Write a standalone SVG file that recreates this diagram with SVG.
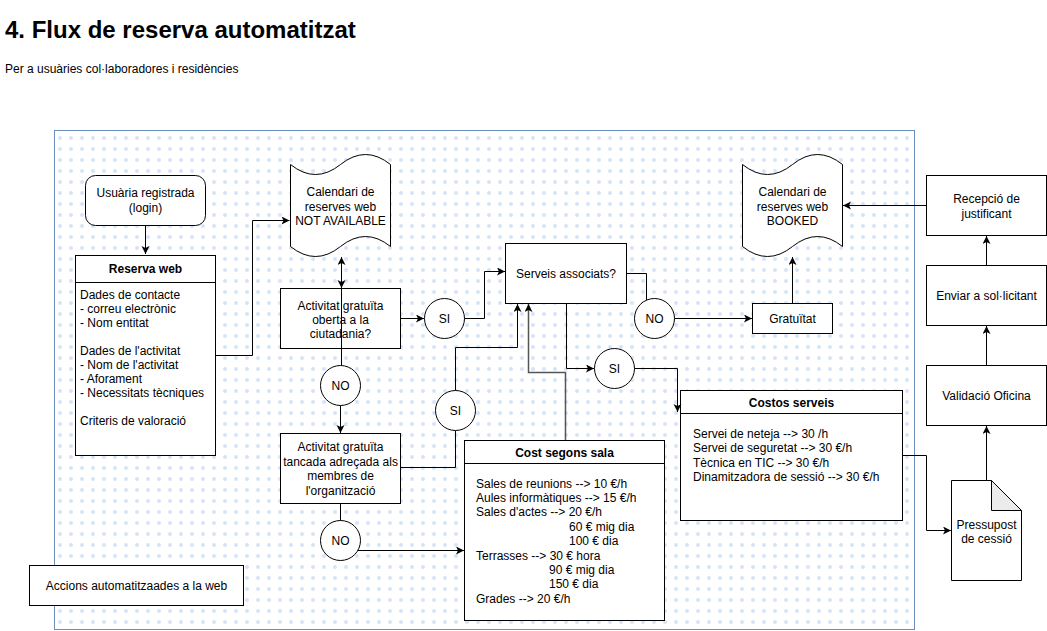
<svg xmlns="http://www.w3.org/2000/svg" width="1047" height="631" viewBox="0 0 1047 631">
<defs>
<pattern id="dots" width="11" height="11" patternUnits="userSpaceOnUse"><circle cx="5" cy="6" r="2" fill="#d6e4f8"/></pattern>
<marker id="arr" markerUnits="userSpaceOnUse" markerWidth="10" markerHeight="10" refX="8" refY="4" orient="auto"><path d="M0,0 L8,4 L0,8 L2,4 Z" fill="#000"/></marker>
<marker id="arrg" markerUnits="userSpaceOnUse" markerWidth="10" markerHeight="10" refX="8" refY="4" orient="auto"><path d="M0,0 L8,4 L0,8 L2,4 Z" fill="#000"/></marker>
</defs>
<style>
text{font-family:"Liberation Sans",Arial,sans-serif;font-size:12px;fill:#000}
.c{text-anchor:middle}
.b{font-weight:bold}
.n{fill:#fff;stroke:#000;stroke-width:1}
.e{fill:none;stroke:#000;stroke-width:1}
.g{fill:none;stroke:#555;stroke-width:1.5}
</style>
<rect width="1047" height="631" fill="#fff"/>
<text x="5" y="38" style="font-size:24px;font-weight:bold">4. Flux de reserva automatitzat</text>
<text x="5" y="73">Per a usuàries col·laboradores i residències</text>
<g id="container"><rect x="54.5" y="130.5" width="860" height="499" fill="#fff"/><rect x="54.5" y="130.5" width="860" height="499" fill="url(#dots)" stroke="#6c8ebf"/></g>
<g id="usuaria"><rect class="n" x="85.5" y="175.5" width="120" height="50" rx="10"/><text class="c" x="145.5" y="197">Usuària registrada</text><text class="c" x="145.5" y="212">(login)</text></g>
<g id="reserva"><rect class="n" x="75.5" y="255.5" width="140" height="200"/><line x1="75.5" y1="282.5" x2="215.5" y2="282.5" stroke="#000"/><text class="c b" x="145.5" y="273">Reserva web</text>
<text x="80" y="298.5">Dades de contacte</text><text x="80" y="312.6">- correu electrònic</text><text x="80" y="326.7">- Nom entitat</text><text x="80" y="354.9">Dades de l'activitat</text><text x="80" y="369">- Nom de l'activitat</text><text x="80" y="383.1">- Aforament</text><text x="80" y="397.2">- Necessitats tècniques</text><text x="80" y="425.4">Criteris de valoració</text></g>
<g id="cal1"><path class="n" d="M290.5,164.5 Q315.5,184.5 340.5,164.5 Q365.5,144.5 390.5,164.5 L390.5,246.5 Q365.5,226.5 340.5,246.5 Q315.5,266.5 290.5,246.5 Z"/><text class="c" x="340.5" y="196">Calendari de</text><text class="c" x="340.5" y="210.5">reserves web</text><text class="c" x="340.5" y="225">NOT AVAILABLE</text></g>
<g id="oberta"><rect class="n" x="280.5" y="288.5" width="120" height="60"/><text class="c" x="340.5" y="309.5">Activitat gratuïta</text><text class="c" x="340.5" y="323.5">oberta a la</text><text class="c" x="340.5" y="337.5">ciutadania?</text></g>
<g id="tancada"><rect class="n" x="280.5" y="433.5" width="120" height="70"/><text class="c" x="340.5" y="451">Activitat gratuïta</text><text class="c" x="340.5" y="465.5">tancada adreçada als</text><text class="c" x="340.5" y="480">membres de</text><text class="c" x="340.5" y="494.5">l'organització</text></g>
<g id="si1"><circle class="n" cx="444.5" cy="318.5" r="20"/><text class="c" x="444.5" y="323">SI</text></g>
<g id="no1"><circle class="n" cx="340.5" cy="385.5" r="20"/><text class="c" x="340.5" y="390">NO</text></g>
<g id="no2"><circle class="n" cx="340.5" cy="540.5" r="20"/><text class="c" x="340.5" y="545">NO</text></g>
<g id="si2"><circle class="n" cx="455.5" cy="410.5" r="20"/><text class="c" x="455.5" y="415">SI</text></g>
<g id="serveis"><rect class="n" x="505.5" y="243.5" width="121" height="60"/><text class="c" x="566" y="277.5">Serveis associats?</text></g>
<g id="no3"><circle class="n" cx="654.5" cy="318.5" r="20"/><text class="c" x="654.5" y="323">NO</text></g>
<g id="si3"><circle class="n" cx="614.5" cy="368.5" r="20"/><text class="c" x="614.5" y="373">SI</text></g>
<g id="gratuitat"><rect class="n" x="752.5" y="303.5" width="80" height="30"/><text class="c" x="792.5" y="322.5">Gratuïtat</text></g>
<g id="cal2"><path class="n" d="M742.5,164.5 Q767.5,184.5 792.5,164.5 Q817.5,144.5 842.5,164.5 L842.5,246.5 Q817.5,226.5 792.5,246.5 Q767.5,266.5 742.5,246.5 Z"/><text class="c" x="792.5" y="196">Calendari de</text><text class="c" x="792.5" y="210.5">reserves web</text><text class="c" x="792.5" y="225">BOOKED</text></g>
<g id="costos"><rect class="n" x="680.5" y="390.5" width="222" height="130"/><line x1="680.5" y1="413.5" x2="902.5" y2="413.5" stroke="#000"/><text class="c b" x="791.5" y="406.5">Costos serveis</text>
<text x="693" y="438">Servei de neteja --&gt; 30 /h</text><text x="693" y="452.4">Servei de seguretat --&gt; 30 €/h</text><text x="693" y="466.8">Tècnica en TIC --&gt; 30 €/h</text><text x="693" y="481.2">Dinamitzadora de sessió --&gt; 30 €/h</text></g>
<g id="costsala"><rect class="n" x="464.5" y="440.5" width="200" height="180"/><line x1="464.5" y1="463.5" x2="664.5" y2="463.5" stroke="#000"/><text class="c b" x="564.5" y="456.5">Cost segons sala</text>
<text x="476" y="487.5">Sales de reunions --&gt; 10 €/h</text><text x="476" y="501.9">Aules informàtiques --&gt; 15 €/h</text><text x="476" y="516.3">Sales d'actes --&gt; 20 €/h</text><text x="569" y="530.7">60 € mig dia</text><text x="569" y="545.1">100 € dia</text><text x="476" y="559.5">Terrasses --&gt; 30 € hora</text><text x="549" y="573.9">90 € mig dia</text><text x="549" y="588.3">150 € dia</text><text x="476" y="602.7">Grades --&gt; 20 €/h</text></g>
<g id="recepcio"><rect class="n" x="926.5" y="175.5" width="120" height="60"/><text class="c" x="986.5" y="203">Recepció de</text><text class="c" x="986.5" y="217.5">justificant</text></g>
<g id="enviar"><rect class="n" x="926.5" y="265.5" width="120" height="60"/><text class="c" x="986.5" y="299.5">Enviar a sol·licitant</text></g>
<g id="validacio"><rect class="n" x="926.5" y="365.5" width="120" height="60"/><text class="c" x="986.5" y="399.5">Validació Oficina</text></g>
<g id="pressupost"><path class="n" d="M951.5,480.5 H991.5 L1021.5,510.5 V580.5 H951.5 Z"/><path d="M991.5,480.5 V510.5 H1021.5 Z" fill="#ebebeb" stroke="#000"/><text class="c" x="986.5" y="528.5">Pressupost</text><text class="c" x="986.5" y="543">de cessió</text></g>
<g id="accions"><rect class="n" x="29.5" y="565.5" width="214" height="40"/><text class="c" x="136.5" y="589.5">Accions automatitzaades a la web</text></g>
<g id="connectors">
<path class="e" d="M145.5,225.5 V254" marker-end="url(#arr)"/>
<path class="e" d="M215.5,355.5 H252.5 V220.5 H289.5" marker-end="url(#arr)"/>
<path class="e" d="M341.5,365.5 V257" marker-end="url(#arr)"/>
<path class="e" d="M341.5,270 V288" marker-end="url(#arr)"/>
<path class="e" d="M400.5,318.5 H424" marker-end="url(#arr)"/>
<path class="e" d="M464.5,318.5 H484.5 V271.5 H505" marker-end="url(#arr)"/>
<path class="e" d="M340.5,405.5 V433" marker-end="url(#arr)"/>
<path class="e" d="M340.5,503.5 V520.5"/>
<path class="e" d="M357.5,550.5 H464" marker-end="url(#arr)"/>
<path class="e" d="M400.5,467.5 H455.5 V430.5"/>
<path class="e" d="M455.5,390.5 V347.5 H517.5 V304" marker-end="url(#arr)"/>
<path class="g" d="M565.5,440 V372.5 H528.5 V304" marker-end="url(#arrg)"/>
<path class="e" d="M626.5,273.5 H646.5 V300"/>
<path class="e" d="M674.5,318.5 H752" marker-end="url(#arr)"/>
<path class="e" d="M566.5,303.5 V368.5 H594" marker-end="url(#arr)"/>
<path class="e" d="M634.5,368.5 H677.5 V412" marker-end="url(#arr)"/>
<path class="e" d="M792.5,303.5 V257" marker-end="url(#arr)"/>
<path class="e" d="M926.5,205.5 H843" marker-end="url(#arr)"/>
<path class="e" d="M986.5,265.5 V236" marker-end="url(#arr)"/>
<path class="e" d="M986.5,365.5 V326" marker-end="url(#arr)"/>
<path class="e" d="M986.5,480.5 V426" marker-end="url(#arr)"/>
<path class="e" d="M902.5,455.5 H926.5 V530.5 H951" marker-end="url(#arr)"/>
</g>
</svg>
